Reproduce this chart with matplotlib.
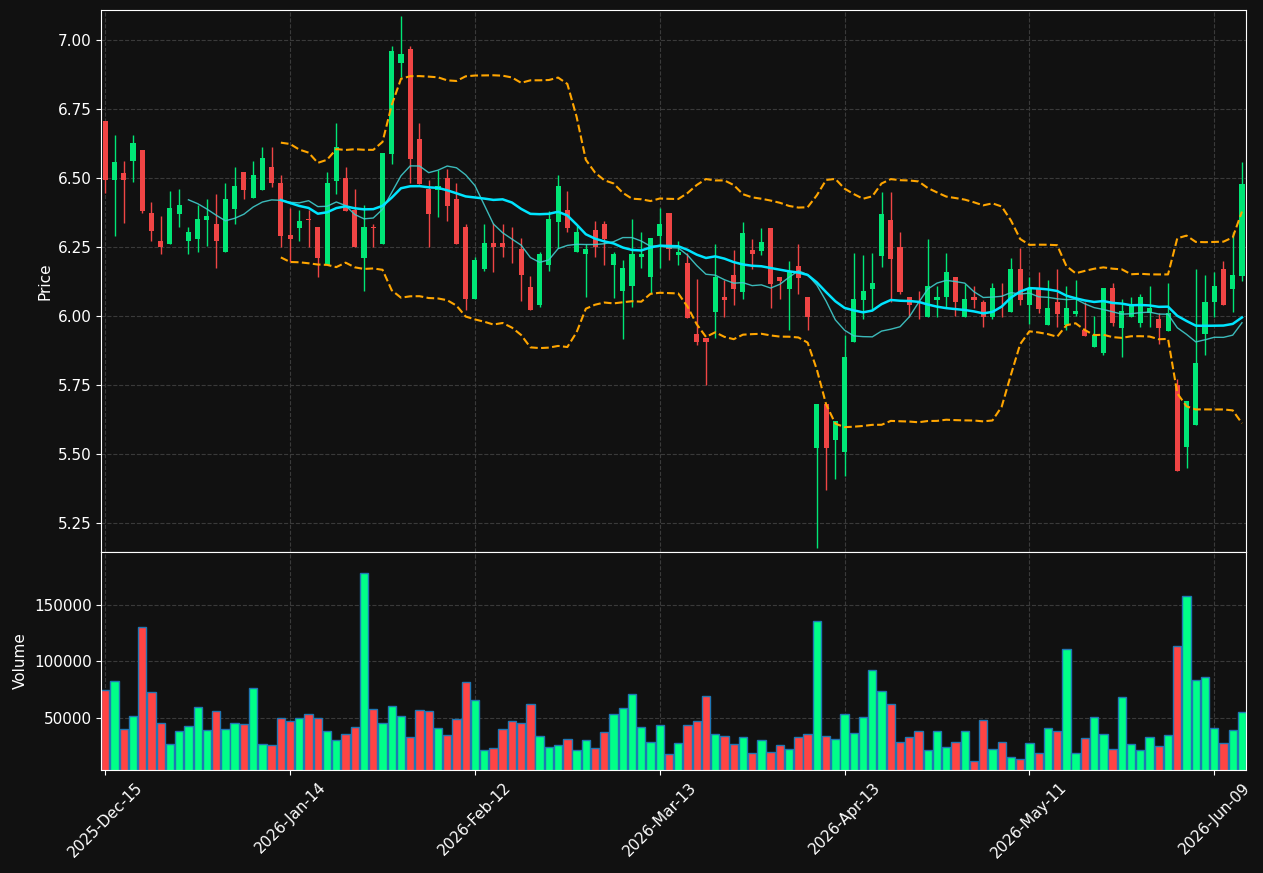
import numpy as np
import pandas as pd
import matplotlib
matplotlib.use('Agg')
import matplotlib.pyplot as plt

# trading days (NYSE calendar) starting 2025-12-15
holidays = ['2025-12-25', '2026-01-01', '2026-01-19', '2026-02-16',
            '2026-04-03', '2026-05-25']
dates = pd.bdate_range('2025-12-15', periods=124, freq='C', holidays=holidays)

opens = [6.708, 6.494, 6.519, 6.563, 6.603, 6.374, 6.273, 6.263, 6.372, 6.271,
         6.281, 6.350, 6.335, 6.231, 6.390, 6.522, 6.430, 6.459, 6.541, 6.483,
         6.295, 6.320, 6.352, 6.324, 6.184, 6.490, 6.501, 6.385, 6.211, 6.324,
         6.262, 6.588, 6.919, 6.969, 6.643, 6.461, 6.459, 6.501, 6.425, 6.324,
         6.064, 6.173, 6.266, 6.266, 6.255, 6.244, 6.106, 6.042, 6.184, 6.343,
         6.384, 6.231, 6.225, 6.313, 6.335, 6.184, 6.093, 6.111, 6.213, 6.144,
         6.292, 6.374, 6.223, 6.193, 5.936, 5.920, 6.017, 6.070, 6.150, 6.089,
         6.240, 6.238, 6.320, 6.142, 6.100, 6.182, 6.070, 5.521, 5.682, 5.550,
         5.510, 5.908, 6.059, 6.099, 6.219, 6.349, 6.251, 6.070, 6.042, 5.999,
         6.059, 6.068, 6.143, 5.999, 6.070, 6.052, 5.999, 6.070, 6.017, 6.171,
         6.039, 6.103, 5.970, 6.052, 5.970, 6.010, 5.950, 5.890, 5.868, 6.103,
         5.959, 5.999, 5.976, 6.011, 5.990, 5.948, 5.751, 5.528, 5.606, 5.937,
         6.050, 6.171, 6.100, 6.147]
highs = [6.708, 6.656, 6.564, 6.656, 6.603, 6.413, 6.362, 6.453, 6.460, 6.322,
         6.403, 6.424, 6.442, 6.482, 6.541, 6.522, 6.563, 6.614, 6.614, 6.511,
         6.391, 6.385, 6.385, 6.324, 6.522, 6.699, 6.540, 6.460, 6.403, 6.333,
         6.592, 6.979, 7.088, 6.979, 6.699, 6.492, 6.530, 6.533, 6.482, 6.333,
         6.213, 6.333, 6.337, 6.335, 6.322, 6.283, 6.145, 6.232, 6.383, 6.512,
         6.453, 6.326, 6.262, 6.345, 6.344, 6.231, 6.204, 6.351, 6.304, 6.283,
         6.391, 6.374, 6.274, 6.228, 6.134, 5.920, 6.260, 6.132, 6.240, 6.342,
         6.279, 6.319, 6.320, 6.142, 6.200, 6.262, 6.070, 5.682, 5.682, 5.621,
         5.931, 6.228, 6.221, 6.228, 6.449, 6.449, 6.307, 6.070, 6.092, 6.279,
         6.110, 6.228, 6.143, 6.116, 6.110, 6.059, 6.120, 6.120, 6.210, 6.249,
         6.141, 6.159, 6.132, 6.170, 6.108, 6.130, 6.053, 6.000, 6.103, 6.120,
         6.062, 6.070, 6.080, 6.110, 6.013, 6.120, 5.772, 5.693, 6.170, 6.149,
         6.159, 6.199, 6.307, 6.558]
lows = [6.448, 6.289, 6.337, 6.486, 6.373, 6.272, 6.225, 6.263, 6.322, 6.225,
        6.232, 6.254, 6.174, 6.231, 6.333, 6.424, 6.430, 6.459, 6.470, 6.252,
        6.198, 6.271, 6.252, 6.144, 6.184, 6.442, 6.382, 6.251, 6.093, 6.252,
        6.262, 6.550, 6.868, 6.482, 6.479, 6.252, 6.361, 6.344, 6.262, 6.023,
        6.064, 6.164, 6.162, 6.214, 6.192, 6.054, 6.024, 6.033, 6.163, 6.248,
        6.304, 6.231, 6.071, 6.213, 6.185, 6.065, 5.917, 6.033, 6.174, 6.083,
        6.174, 6.204, 6.186, 5.992, 5.896, 5.750, 5.920, 5.999, 6.040, 6.062,
        6.170, 6.221, 6.029, 6.062, 5.949, 6.080, 5.949, 5.159, 5.371, 5.409,
        5.422, 5.908, 5.989, 6.023, 6.180, 6.050, 6.080, 5.999, 5.989, 5.999,
        5.999, 6.033, 6.001, 5.999, 6.030, 5.961, 5.989, 5.999, 6.017, 6.040,
        5.971, 6.011, 5.970, 5.961, 5.950, 6.000, 5.930, 5.890, 5.859, 5.963,
        5.851, 5.999, 5.960, 5.960, 5.899, 5.948, 5.441, 5.449, 5.606, 5.859,
        5.999, 6.039, 6.017, 6.129]
closes = [6.494, 6.559, 6.494, 6.628, 6.382, 6.309, 6.252, 6.393, 6.403, 6.306,
          6.353, 6.364, 6.271, 6.425, 6.472, 6.458, 6.512, 6.574, 6.481, 6.291,
          6.280, 6.345, 6.349, 6.211, 6.483, 6.614, 6.382, 6.251, 6.324, 6.321,
          6.592, 6.961, 6.950, 6.570, 6.479, 6.372, 6.472, 6.401, 6.262, 6.064,
          6.204, 6.266, 6.252, 6.252, 6.253, 6.151, 6.024, 6.225, 6.351, 6.472,
          6.321, 6.306, 6.244, 6.252, 6.281, 6.225, 6.174, 6.225, 6.225, 6.283,
          6.335, 6.242, 6.233, 5.992, 5.905, 5.908, 6.141, 6.060, 6.100, 6.302,
          6.227, 6.269, 6.118, 6.129, 6.162, 6.140, 5.999, 5.682, 5.521, 5.621,
          5.853, 6.063, 6.092, 6.121, 6.371, 6.208, 6.088, 6.039, 6.039, 6.110,
          6.071, 6.161, 6.050, 6.063, 6.060, 5.999, 6.103, 6.068, 6.171, 6.060,
          6.104, 6.028, 6.030, 6.010, 6.030, 6.019, 5.930, 5.932, 6.103, 5.976,
          6.019, 6.042, 6.070, 6.030, 5.959, 6.012, 5.441, 5.693, 5.830, 6.052,
          6.110, 6.039, 6.150, 6.479]
volumes = [74775, 82445, 40260, 51765, 130530, 73000, 45570, 26690, 38195, 42620,
           59435, 39080, 56190, 40260, 45275, 44685, 76545, 26690, 25805, 50000,
           47340, 50000, 53535, 50000, 38490, 30525, 35835, 42030, 178320, 57960,
           45570, 60615, 51765, 33180, 57075, 56190, 41145, 34950, 49110, 81855,
           65925, 21675, 23445, 40260, 47340, 45570, 62385, 34065, 24330, 26100,
           31410, 21675, 30525, 23445, 37605, 53535, 58845, 71235, 42030, 28755,
           43800, 18135, 27870, 43800, 47340, 69465, 35835, 34065, 26985, 33180,
           19020, 30525, 19905, 26100, 22560, 33180, 35835, 135840, 34065, 31410,
           53535, 36720, 50880, 92475, 73890, 62385, 28755, 33180, 38490, 21675,
           38490, 24330, 28755, 38490, 11940, 47935, 22560, 28755, 15480, 13710,
           27870, 19020, 41145, 38490, 111060, 19020, 32295, 50880, 35835, 22560,
           68580, 26985, 21675, 33180, 25215, 34950, 113715, 157965, 83625, 86280,
           41145, 27870, 39375, 55305]

df = pd.DataFrame({'Open': opens, 'High': highs, 'Low': lows,
                   'Close': closes, 'Volume': volumes}, index=dates)
ma10 = df['Close'].rolling(10).mean()
ma20 = df['Close'].rolling(20).mean()
sd20 = df['Close'].rolling(20).std(ddof=0)
upper = ma20 + 2 * sd20
lower = ma20 - 2 * sd20

bg = '#111111'
up_c, dn_c = '#00e676', '#f04545'
vup_c, vdn_c = '#00ff88', '#ff4444'

fig = plt.figure(figsize=(12.63, 8.73), dpi=100, facecolor=bg)
ax = fig.add_axes([0.0802, 0.3677, 0.9063, 0.621])
ax2 = fig.add_axes([0.0802, 0.118, 0.9063, 0.2497], sharex=ax)

x = np.arange(len(df))
is_up = df['Close'] >= df['Open']
cols = np.where(is_up, up_c, dn_c)
vcols = np.where(is_up, vup_c, vdn_c)

ax.vlines(x, df['Low'], df['High'], colors=cols, linewidth=1)
body_h = np.maximum((df['Close'] - df['Open']).abs(), 0.003)
ax.bar(x, body_h, bottom=np.minimum(df['Open'], df['Close']), width=0.55,
       color=cols, linewidth=0)

ax.plot(x, ma10, color='#40cccc', linewidth=1, alpha=0.9)
ax.plot(x, ma20, color='#00e5ff', linewidth=1.8)
ax.plot(x, upper, color='#ffa500', linewidth=1.5, linestyle='--')
ax.plot(x, lower, color='#ffa500', linewidth=1.5, linestyle='--')

ax2.bar(x, df['Volume'], width=0.9, color=vcols, edgecolor='#1f77b4', linewidth=1)

ticks = list(range(0, len(df), 20))
for a in (ax, ax2):
    a.set_facecolor(bg)
    a.grid(True, linestyle='--', color='#3a3a3a', linewidth=0.8)
    a.set_axisbelow(True)
    a.tick_params(colors='white', labelsize=11)
    for s in a.spines.values():
        s.set_color('white')
    a.set_xticks(ticks)

ax.set_xlim(-0.43, 123.43)
ax.set_ylim(5.146, 7.110)
ax.set_yticks(np.arange(5.25, 7.01, 0.25))
ax.yaxis.set_major_formatter(matplotlib.ticker.FormatStrFormatter('%.2f'))
ax.set_ylabel('Price', color='white', fontsize=11)
plt.setp(ax.get_xticklabels(), visible=False)

ax2.set_ylim(4000, 196500)
ax2.set_yticks([50000, 100000, 150000])
ax2.set_ylabel('Volume', color='white', fontsize=11)
ax2.set_xticklabels([dates[i].strftime('%Y-%b-%d') for i in ticks], rotation=45)

fig.savefig('out.png', dpi=100, facecolor=bg)
